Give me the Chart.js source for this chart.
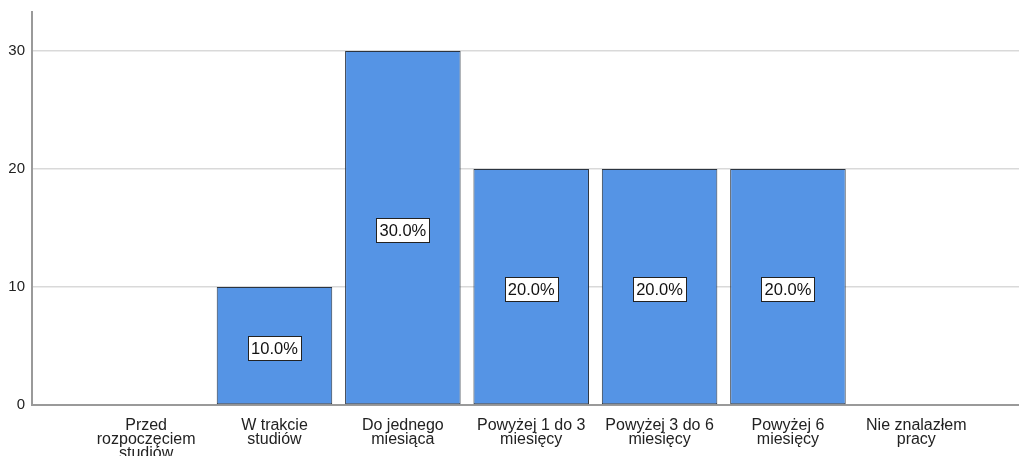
<!DOCTYPE html>
<html>
<head>
<meta charset="utf-8">
<script src="https://cdn.jsdelivr.net/npm/chart.js@4"></script>
<style>
  html,body{margin:0;padding:0;background:#fff;}
  #wrap{width:1019px;height:456px;}
</style>
</head>
<body>
<div id="wrap"><canvas id="c" width="1019" height="456"></canvas></div>
<script>
// chart data
const categories = [
  ['Przed','rozpoczęciem','studiów'],
  ['W trakcie','studiów'],
  ['Do jednego','miesiąca'],
  ['Powyżej 1 do 3','miesięcy'],
  ['Powyżej 3 do 6','miesięcy'],
  ['Powyżej 6','miesięcy'],
  ['Nie znalazłem','pracy']
];
const values = [0, 10, 30, 20, 20, 20, 0];
const yTicks = [0, 10, 20, 30];

const total = values.reduce((a,b)=>a+b,0);
const FONT = '"Liberation Sans", Arial, sans-serif';

// boxed percentage labels in the middle of each bar
const boxLabels = {
  id:'boxLabels',
  afterDatasetsDraw(chart){
    const ctx = chart.ctx;
    const meta = chart.getDatasetMeta(0);
    ctx.save();
    ctx.font = '16.5px '+FONT;
    ctx.textAlign = 'center';
    ctx.textBaseline = 'middle';
    meta.data.forEach((bar,i)=>{
      const v = values[i];
      if(!v) return;
      const txt = (v/total*100).toFixed(1)+'%';
      const w = Math.round(ctx.measureText(txt).width + 6);
      const h = 24;
      const x0 = Math.round(bar.x - w/2) + 0.5;
      const y0 = Math.round((bar.y + bar.base)/2 + 2 - h/2) + 0.5;
      ctx.fillStyle = '#fff';
      ctx.fillRect(x0, y0, w, h);
      ctx.strokeStyle = '#222';
      ctx.lineWidth = 1;
      ctx.strokeRect(x0, y0, w, h);
      ctx.fillStyle = '#111';
      ctx.fillText(txt, bar.x, y0 + h/2 + 1);
    });
    ctx.restore();
  }
};

new Chart(document.getElementById('c'), {
  type:'bar',
  data:{
    datasets:[{
      data: values.map((v,i)=>({x:i, y:v})),
      backgroundColor:'#5594e5',
      borderColor:'#2b3440',
      borderWidth: c => (c.raw && c.raw.y===0) ? 0 : 1,
      borderSkipped:false,
      barPercentage:0.9,
      categoryPercentage:1.0
    }]
  },
  options:{
    responsive:false,
    animation:false,
    events:[],
    layout:{ padding:{ top:12, right:0, left:0, bottom:0 } },
    plugins:{ legend:{display:false}, tooltip:{enabled:false} },
    scales:{
      x:{
        type:'linear',
        offset:false,
        min:-0.889, max:6.80,
        grid:{ display:false, offset:false },
        border:{ display:true, color:'#9a9a9a', width:2 },
        ticks:{
          stepSize:1, autoSkip:false, maxRotation:0, includeBounds:false,
          padding:6,
          color:'#222',
          font:{ family:FONT, size:16, lineHeight:0.875 },
          callback: v => (Number.isInteger(v) && categories[v]) ? categories[v] : ''
        },
        afterFit: s => { s.height = 51; s.paddingLeft = 0; s.paddingRight = 0; }
      },
      y:{
        min:0, max:33.3,
        afterBuildTicks: s => { s.ticks = yTicks.map(v=>({value:v})); },
        grid:{ color:'#d9d9d9', lineWidth:1.5, drawTicks:false },
        border:{ display:true, color:'#9a9a9a', width:2 },
        ticks:{
          padding:7,
          color:'#222',
          font:{ family:FONT, size:15 }
        },
        afterFit: s => { s.width = 32; s.paddingTop = 0; s.paddingBottom = 0; }
      }
    }
  },
  plugins:[boxLabels]
});
</script>
</body>
</html>
